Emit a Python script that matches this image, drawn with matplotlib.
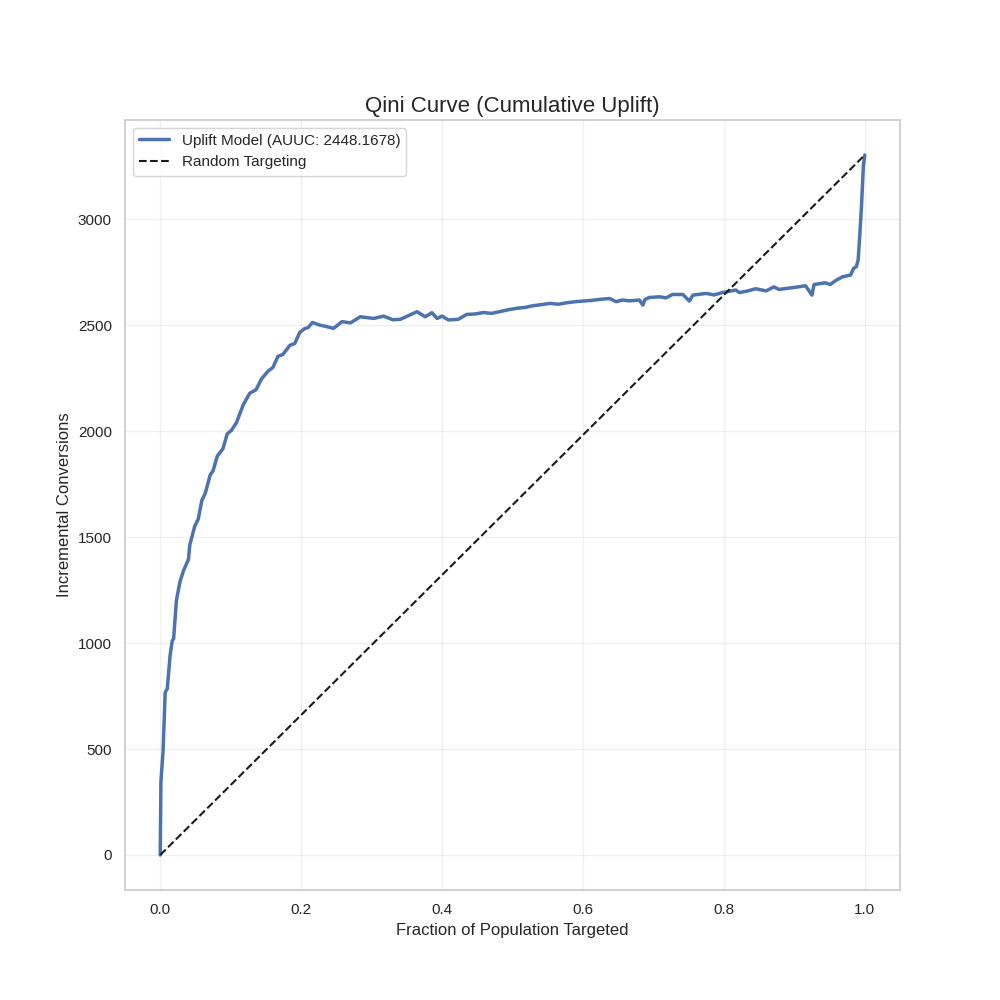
import matplotlib
matplotlib.use("Agg")
import matplotlib.pyplot as plt
import seaborn as sns

# values
frac = [0.0, 0.001, 0.004, 0.007, 0.010, 0.014, 0.017, 0.019, 0.023, 0.028,
        0.033, 0.040, 0.042, 0.049, 0.054, 0.059, 0.064, 0.071, 0.075, 0.081,
        0.089, 0.095, 0.101, 0.108, 0.118, 0.127, 0.136, 0.144, 0.153, 0.160,
        0.167, 0.174, 0.184, 0.191, 0.198, 0.205, 0.210, 0.216, 0.226, 0.237,
        0.246, 0.258, 0.270, 0.284, 0.303, 0.317, 0.330, 0.341, 0.3645, 0.376,
        0.3857, 0.393, 0.400, 0.409, 0.423, 0.435, 0.447, 0.459, 0.470, 0.482,
        0.494, 0.506, 0.518, 0.529, 0.541, 0.553, 0.565, 0.577, 0.589, 0.600,
        0.612, 0.624, 0.638, 0.647, 0.656, 0.666, 0.680, 0.685, 0.688,
        0.694, 0.709, 0.718, 0.727, 0.742, 0.751, 0.756, 0.765, 0.775, 0.786,
        0.798, 0.817, 0.822, 0.833, 0.845, 0.860, 0.871, 0.878, 0.897, 0.916,
        0.925, 0.928, 0.944, 0.951, 0.958, 0.968, 0.980, 0.984, 0.988, 0.9906,
        0.9925, 0.9953, 0.998, 1.0]
uplift = [0, 348, 488, 767, 784, 941, 1010, 1020, 1202, 1289,
          1341, 1394, 1463, 1551, 1585, 1672, 1707, 1794, 1812, 1882,
          1916, 1986, 2003, 2038, 2125, 2178, 2195, 2247, 2282, 2300,
          2352, 2361, 2404, 2413, 2465, 2483, 2488, 2512, 2500, 2492,
          2484, 2516, 2510, 2539, 2531, 2542, 2525, 2527, 2563, 2539,
          2558, 2531, 2542, 2524, 2527, 2550, 2552, 2559, 2555, 2563,
          2572, 2579, 2583, 2591, 2596, 2602, 2598, 2605, 2610, 2613,
          2616, 2621, 2625, 2610, 2618, 2614, 2618, 2594, 2620,
          2630, 2633, 2628, 2644, 2644, 2613, 2641, 2645, 2649, 2642,
          2653, 2665, 2653, 2660, 2671, 2661, 2680, 2668, 2676, 2685,
          2641, 2691, 2699, 2691, 2708, 2727, 2736, 2767, 2775, 2807,
          2901, 3058, 3250, 3302]
auuc = 2448.1678
total = uplift[-1]

sns.set_theme(style="whitegrid")
plt.rcParams["font.family"] = ["Liberation Sans", "DejaVu Sans"]

fig, ax = plt.subplots(figsize=(10, 10))
ax.plot(frac, uplift, color="#4c72b0", linewidth=2.5,
        label="Uplift Model (AUUC: %.4f)" % auuc)
ax.plot([0, 1], [0, total], "k--", linewidth=1.5, label="Random Targeting")

ax.set_title("Qini Curve (Cumulative Uplift)", fontsize=16)
ax.set_xlabel("Fraction of Population Targeted")
ax.set_ylabel("Incremental Conversions")
ax.legend(loc="upper left")
ax.grid(True, alpha=0.3)

fig.savefig("out.png", dpi=100)
